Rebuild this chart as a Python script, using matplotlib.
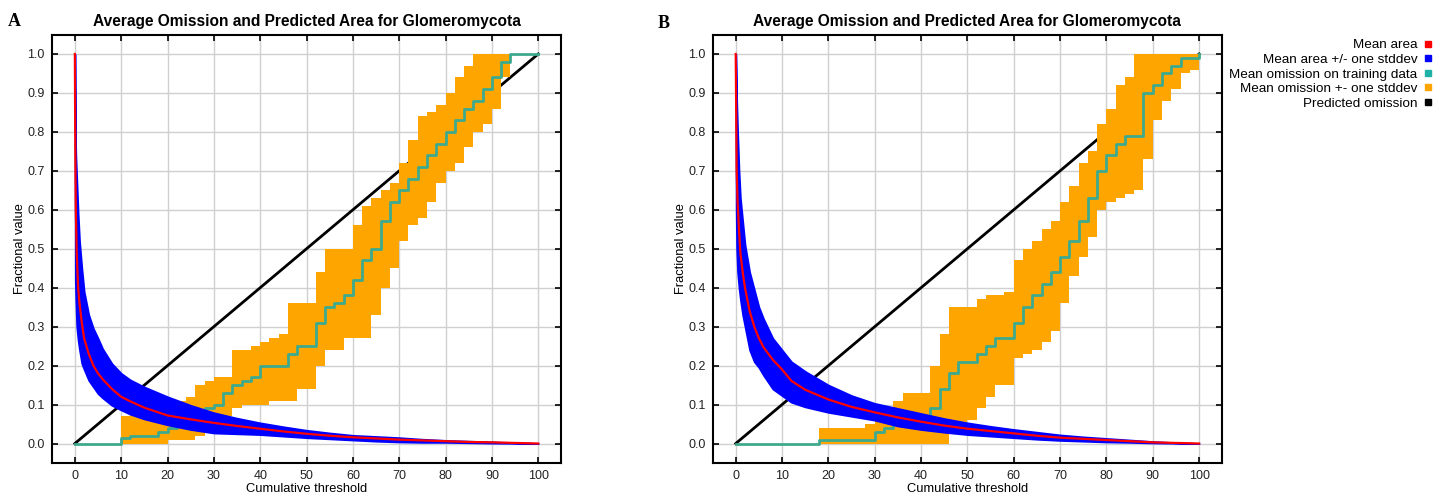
import numpy as np
import matplotlib.pyplot as plt
from matplotlib.lines import Line2D

plt.rcParams['font.family'] = ['Liberation Sans', 'DejaVu Sans']

# --- date ---
# pragul cumulativ pentru curbele de arie
area_x = [0, 0.1, 0.2, 0.4, 0.7, 1.0, 1.5, 2, 3, 4, 5, 6, 8, 10, 12, 15, 20, 25, 30,
          35, 40, 45, 50, 55, 60, 65, 70, 75, 80, 85, 90, 95, 100]

a_area_mean = [1.0, 0.74, 0.60, 0.49, 0.40, 0.36, 0.31, 0.27, 0.23, 0.20, 0.18, 0.165, 0.14,
               0.12, 0.108, 0.092, 0.072, 0.062, 0.053, 0.045, 0.038, 0.031, 0.025, 0.020,
               0.016, 0.013, 0.010, 0.008, 0.006, 0.004, 0.003, 0.0015, 0.0]
a_area_up = [1.0, 0.80, 0.74, 0.68, 0.59, 0.52, 0.45, 0.39, 0.33, 0.295, 0.27, 0.243, 0.205,
             0.18, 0.163, 0.145, 0.12, 0.098, 0.079, 0.065, 0.053, 0.043, 0.034, 0.027,
             0.021, 0.018, 0.015, 0.011, 0.008, 0.006, 0.004, 0.002, 0.0]
a_area_lo = [1.0, 0.42, 0.37, 0.30, 0.265, 0.24, 0.205, 0.19, 0.162, 0.145, 0.128, 0.117, 0.098,
             0.086, 0.075, 0.063, 0.048, 0.036, 0.027, 0.025, 0.023, 0.019, 0.015, 0.012,
             0.009, 0.006, 0.004, 0.003, 0.003, 0.002, 0.001, 0.0005, 0.0]

b_area_mean = [1.0, 0.85, 0.70, 0.62, 0.55, 0.49, 0.44, 0.40, 0.34, 0.30, 0.27, 0.247, 0.215,
               0.19, 0.161, 0.138, 0.113, 0.094, 0.080, 0.067, 0.056, 0.046, 0.038, 0.032,
               0.026, 0.020, 0.015, 0.012, 0.009, 0.006, 0.003, 0.0015, 0.0]
b_area_up = [1.0, 0.95, 0.88, 0.80, 0.70, 0.63, 0.57, 0.51, 0.44, 0.395, 0.35, 0.32, 0.27,
             0.24, 0.21, 0.185, 0.15, 0.123, 0.103, 0.09, 0.077, 0.064, 0.053, 0.044,
             0.036, 0.029, 0.022, 0.017, 0.013, 0.009, 0.005, 0.002, 0.0]
b_area_lo = [1.0, 0.60, 0.50, 0.44, 0.40, 0.37, 0.33, 0.30, 0.24, 0.21, 0.195, 0.175, 0.14,
             0.123, 0.106, 0.094, 0.08, 0.07, 0.06, 0.045, 0.036, 0.029, 0.023, 0.019,
             0.015, 0.011, 0.008, 0.006, 0.004, 0.003, 0.0015, 0.0007, 0.0]

# omisiunea (in trepte, pas de 2)
om_x = list(range(0, 101, 2))

a_om_mean = [0, 0, 0, 0, 0, .015, .02, .02, .02, .03, .04, .05, .06, .07, .09,
             .10, .13, .15, .16, .17, .20, .20, .20, .23, .25, .25, .31, .35, .36, .38,
             .42, .47, .50, .57, .62, .65, .68, .71, .74, .77, .80, .83, .86, .88, .91,
             .94, .98, 1, 1, 1, 1]
a_om_up = [0, 0, 0, 0, 0, .07, .08, .09, .10, .11, .11, .11, .12, .15, .16,
           .17, .17, .24, .24, .25, .26, .27, .28, .36, .36, .36, .44, .50, .50, .50,
           .56, .61, .63, .65, .67, .72, .78, .84, .85, .87, .90, .94, .97, 1, 1,
           1, 1, 1, 1, 1, 1]
a_om_lo = [0, 0, 0, 0, 0, 0, 0, 0, 0, 0, .01, .01, .01, .02, .03,
           .05, .07, .09, .10, .10, .10, .11, .11, .11, .14, .14, .20, .24, .24, .27,
           .27, .27, .33, .40, .45, .52, .56, .58, .62, .67, .70, .72, .76, .80, .82,
           .86, .94, 1, 1, 1, 1]

b_om_mean = [0, 0, 0, 0, 0, 0, 0, 0, 0, .01, .01, .01, .01, .01, .01,
             .03, .04, .05, .06, .07, .07, .09, .14, .18, .21, .21, .23, .25, .27, .27,
             .31, .35, .38, .41, .44, .48, .52, .57, .63, .70, .74, .77, .79, .79, .90,
             .92, .95, .97, .99, .99, 1.0]
b_om_up = [0, 0, 0, 0, 0, 0, 0, 0, 0, .04, .04, .04, .04, .04, .05,
           .08, .09, .11, .13, .13, .13, .20, .28, .35, .35, .35, .37, .38, .38, .39,
           .47, .50, .52, .55, .57, .62, .66, .72, .75, .82, .86, .92, .94, 1, 1,
           1, 1, 1, 1, 1, 1]
b_om_lo = [0, 0, 0, 0, 0, 0, 0, 0, 0, 0, 0, 0, 0, 0, 0,
           0, 0, 0, 0, 0, 0, 0, 0, .03, .05, .06, .09, .12, .15, .15,
           .22, .23, .24, .26, .29, .36, .43, .48, .53, .60, .62, .63, .64, .65, .73,
           .83, .88, .91, .95, .96, .96]

pred_x = [0, 100]
pred_y = [0, 1]

titlu = 'Average Omission and Predicted Area for Glomeromycota'
x_ticks = list(range(0, 101, 10))
y_ticks = [i / 10 for i in range(11)]

verde = '#3daa8e'
portocaliu = '#ffa500'


def deseneaza(ax, area_mean, area_up, area_lo, om_mean, om_up, om_lo):
    ax.plot(pred_x, pred_y, color='black', lw=2, zorder=2)
    ax.fill_between(om_x, om_lo, om_up, step='post', color=portocaliu, lw=0, zorder=3)
    ax.step(om_x, om_mean, where='post', color=verde, lw=2, zorder=4)
    # banda albastra putin ingrosata (in original e desenata din bare verticale)
    ax.fill_between(area_x, area_lo, area_up, facecolor='#0000ff', edgecolor='#0000ff',
                    lw=1.3, zorder=5)
    ax.plot(area_x, area_mean, color='#ff0000', lw=1.6, zorder=6)

    ax.set_xlim(-5, 105)
    ax.set_ylim(-0.05, 1.05)
    ax.set_xticks(x_ticks)
    ax.set_yticks(y_ticks)
    ax.set_yticklabels([f'{v:.1f}' for v in y_ticks])
    ax.grid(True, color='#d0d0d0', lw=1, zorder=0)
    ax.set_axisbelow(True)
    ax.tick_params(direction='in', length=4, width=1.2, top=True, right=True,
                   labelsize=9, pad=5, colors='black', labelcolor='#222222')
    for s in ax.spines.values():
        s.set_linewidth(1.5)
    ax.set_title(titlu, fontsize=11.2, fontweight='bold', pad=6)
    ax.set_xlabel('Cumulative threshold', fontsize=9.3, labelpad=1)
    ax.set_ylabel('Fractional value', fontsize=9.3, labelpad=1)


fig = plt.figure(figsize=(14.48, 4.98), dpi=100)
ax_a = fig.add_axes([0.0357, 0.0703, 0.352, 0.8604])
ax_b = fig.add_axes([0.4921, 0.0703, 0.352, 0.8604])

deseneaza(ax_a, a_area_mean, a_area_up, a_area_lo, a_om_mean, a_om_up, a_om_lo)
deseneaza(ax_b, b_area_mean, b_area_up, b_area_lo, b_om_mean, b_om_up, b_om_lo)

fig.text(14 / 1448, 1 - 21 / 498, 'A', family='Liberation Serif', fontweight='bold',
         fontsize=13, ha='center', va='center')
fig.text(664 / 1448, 1 - 24 / 498, 'B', family='Liberation Serif', fontweight='bold',
         fontsize=13, ha='center', va='center')

# legenda din dreapta
etichete = ['Mean area', 'Mean area +/- one stddev', 'Mean omission on training data',
            'Mean omission +- one stddev', 'Predicted omission']
culori = ['#ff0000', '#0000ff', '#1fb0a8', portocaliu, 'black']
handles = [Line2D([], [], ls='none', marker='s', markersize=4.5, color=c) for c in culori]
fig.legend(handles, etichete, loc='upper right', bbox_to_anchor=(1432 / 1448, 1 - 39 / 498),
           frameon=False, markerfirst=False, fontsize=9.7, labelspacing=0.16,
           handlelength=0.6, handletextpad=0.5, borderpad=0, borderaxespad=0)

fig.savefig('out.png', dpi=100)
